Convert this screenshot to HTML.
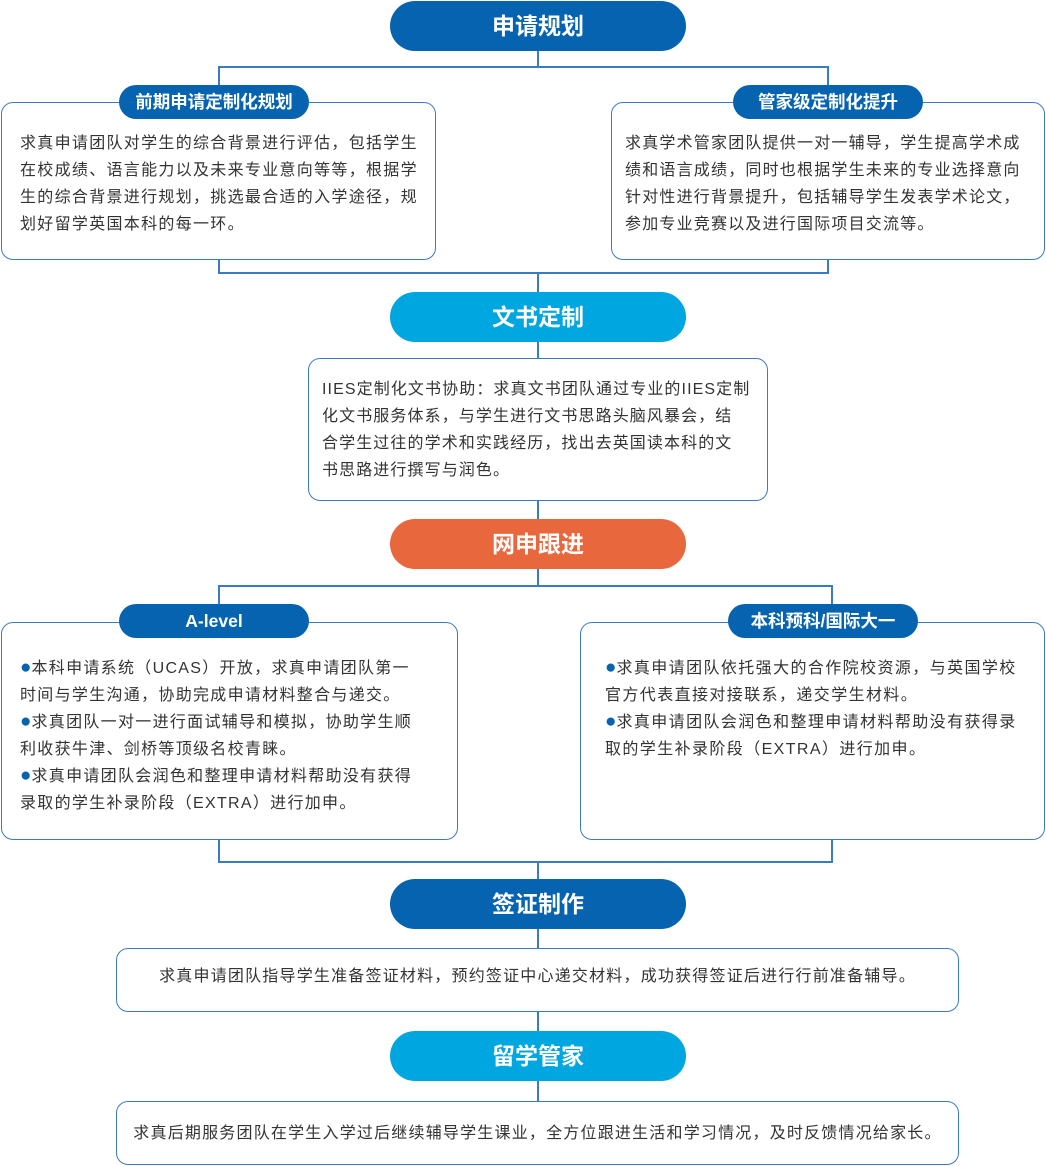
<!DOCTYPE html>
<html><head><meta charset="utf-8"><style>
*{margin:0;padding:0;box-sizing:border-box}
body{width:1046px;height:1166px;background:#fff;position:relative;overflow:hidden;font-family:"Liberation Sans","Noto Sans CJK SC",sans-serif;color:#333}
.ln{position:absolute;background:#3a7cc4}
.pill{position:absolute;border-radius:26px;color:#fff;font-weight:bold;font-size:23px;text-align:center;line-height:50px;letter-spacing:0px}
.tag{position:absolute;border-radius:18px;background:#0563b0;color:#fff;font-weight:bold;font-size:17.5px;text-align:center;line-height:34px;height:34px}
.box{position:absolute;border:1.5px solid #3a7cc4;border-radius:12px;background:#fff}
.t{position:absolute;font-size:16px;line-height:27px;letter-spacing:1.5px;white-space:nowrap}
.b{color:#0563b0;font-size:19px;letter-spacing:0;line-height:16px}
</style></head><body>
<div class="ln" style="left:537px;top:50px;width:2px;height:18px"></div>
<div class="ln" style="left:218px;top:66px;width:611px;height:2px"></div>
<div class="ln" style="left:218px;top:66px;width:2px;height:22px"></div>
<div class="ln" style="left:827px;top:66px;width:2px;height:22px"></div>
<div class="ln" style="left:218px;top:258px;width:2px;height:16px"></div>
<div class="ln" style="left:827px;top:258px;width:2px;height:16px"></div>
<div class="ln" style="left:218px;top:272px;width:611px;height:2px"></div>
<div class="ln" style="left:537px;top:272px;width:2px;height:22px"></div>
<div class="ln" style="left:537px;top:340px;width:2px;height:20px"></div>
<div class="ln" style="left:537px;top:500px;width:2px;height:20px"></div>
<div class="ln" style="left:537px;top:568px;width:2px;height:19px"></div>
<div class="ln" style="left:218px;top:585px;width:615px;height:2px"></div>
<div class="ln" style="left:218px;top:585px;width:2px;height:22px"></div>
<div class="ln" style="left:831px;top:585px;width:2px;height:22px"></div>
<div class="ln" style="left:218px;top:839px;width:2px;height:24px"></div>
<div class="ln" style="left:831px;top:839px;width:2px;height:24px"></div>
<div class="ln" style="left:218px;top:861px;width:615px;height:2px"></div>
<div class="ln" style="left:537px;top:861px;width:2px;height:20px"></div>
<div class="ln" style="left:537px;top:928px;width:2px;height:22px"></div>
<div class="ln" style="left:537px;top:1011px;width:2px;height:22px"></div>
<div class="ln" style="left:537px;top:1080px;width:2px;height:22px"></div>

<div class="pill" style="left:390px;top:1px;width:296px;height:50px;background:#0563b0">申请规划</div>

<div class="box" style="left:1px;top:102px;width:435px;height:158px"></div>
<div class="tag" style="left:119px;top:85px;width:190px">前期申请定制化规划</div>
<div class="t" style="left:20px;top:130px;letter-spacing:1.3px">求真申请团队对学生的综合背景进行评估，包括学生<br>在校成绩、语言能力以及未来专业意向等等，根据学<br>生的综合背景进行规划，挑选最合适的入学途径，规<br>划好留学英国本科的每一环。</div>

<div class="box" style="left:611px;top:102px;width:434px;height:158px"></div>
<div class="tag" style="left:733px;top:85px;width:190px">管家级定制化提升</div>
<div class="t" style="left:625px;top:130px;letter-spacing:1.2px">求真学术管家团队提供一对一辅导，学生提高学术成<br>绩和语言成绩，同时也根据学生未来的专业选择意向<br>针对性进行背景提升，包括辅导学生发表学术论文，<br>参加专业竞赛以及进行国际项目交流等。</div>

<div class="pill" style="left:390px;top:292px;width:296px;height:50px;background:#00a6df">文书定制</div>
<div class="box" style="left:308px;top:358px;width:460px;height:143px"></div>
<div class="t" style="left:322px;top:376px;letter-spacing:1.1px">IIES定制化文书协助：求真文书团队通过专业的IIES定制<br>化文书服务体系，与学生进行文书思路头脑风暴会，结<br>合学生过往的学术和实践经历，找出去英国读本科的文<br>书思路进行撰写与润色。</div>

<div class="pill" style="left:390px;top:519px;width:296px;height:50px;background:#e8673c">网申跟进</div>

<div class="box" style="left:1px;top:622px;width:457px;height:218px"></div>
<div class="tag" style="left:119px;top:604px;width:190px">A-level</div>
<div class="t" style="left:20px;top:655px;letter-spacing:1.3px"><span class="b">●</span>本科申请系统（UCAS）开放，求真申请团队第一<br>时间与学生沟通，协助完成申请材料整合与递交。<br><span class="b">●</span>求真团队一对一进行面试辅导和模拟，协助学生顺<br>利收获牛津、剑桥等顶级名校青睐。<br><span class="b">●</span>求真申请团队会润色和整理申请材料帮助没有获得<br>录取的学生补录阶段（EXTRA）进行加申。</div>

<div class="box" style="left:580px;top:622px;width:465px;height:218px"></div>
<div class="tag" style="left:728px;top:604px;width:190px">本科预科/国际大一</div>
<div class="t" style="left:605px;top:655px;letter-spacing:1.4px"><span class="b">●</span>求真申请团队依托强大的合作院校资源，与英国学校<br>官方代表直接对接联系，递交学生材料。<br><span class="b">●</span>求真申请团队会润色和整理申请材料帮助没有获得录<br>取的学生补录阶段（EXTRA）进行加申。</div>

<div class="pill" style="left:390px;top:879px;width:296px;height:50px;background:#0563b0">签证制作</div>
<div class="box" style="left:116px;top:948px;width:843px;height:64px"></div>
<div class="t" style="left:116px;width:843px;text-align:center;top:963px;letter-spacing:1.2px">求真申请团队指导学生准备签证材料，预约签证中心递交材料，成功获得签证后进行行前准备辅导。</div>

<div class="pill" style="left:390px;top:1031px;width:296px;height:50px;background:#00a6df">留学管家</div>
<div class="box" style="left:116px;top:1101px;width:843px;height:64px"></div>
<div class="t" style="left:116px;width:843px;text-align:center;top:1120px;letter-spacing:1.2px">求真后期服务团队在学生入学过后继续辅导学生课业，全方位跟进生活和学习情况，及时反馈情况给家长。</div>
</body></html>
